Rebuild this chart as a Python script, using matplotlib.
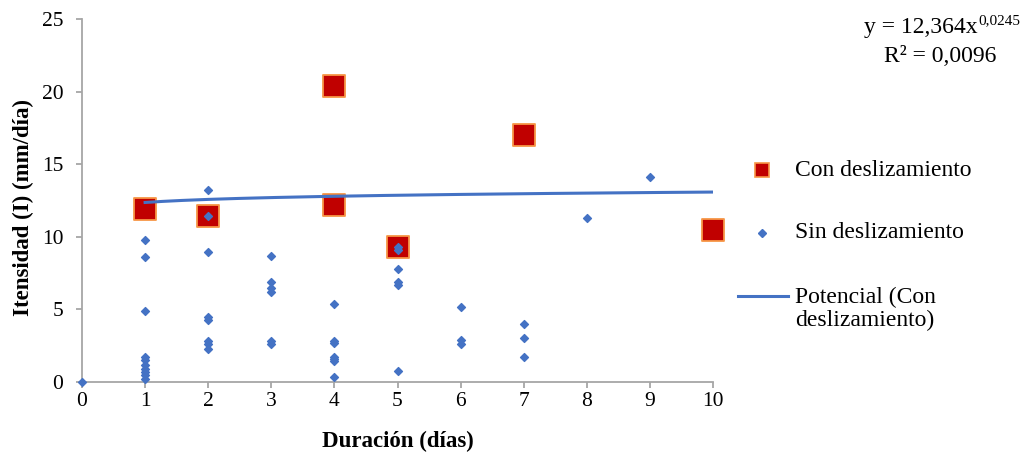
import matplotlib
matplotlib.use("Agg")
import matplotlib.pyplot as plt
import numpy as np
from matplotlib.lines import Line2D

plt.rcParams['font.family'] = ['Liberation Serif', 'DejaVu Serif']

# Data
con_x = [1, 2, 4, 4, 5, 7, 10]
con_y = [11.9, 11.4, 20.4, 12.2, 9.3, 17.0, 10.5]

sin_x = [0,
         1, 1, 1, 1, 1, 1, 1, 1, 1, 1,
         2, 2, 2, 2, 2, 2, 2, 2,
         3, 3, 3, 3, 3, 3,
         4, 4, 4, 4, 4, 4, 4,
         5, 5, 5, 5, 5, 5,
         6, 6, 6,
         7, 7, 7,
         8, 9]
sin_y = [0.0,
         9.8, 8.6, 4.9, 1.7, 1.5, 1.2, 0.9, 0.7, 0.5, 0.2,
         13.2, 11.4, 8.95, 4.45, 4.3, 2.8, 2.65, 2.3,
         8.7, 6.9, 6.5, 6.2, 2.8, 2.65,
         5.35, 2.8, 2.7, 1.75, 1.6, 1.45, 0.35,
         9.3, 9.1, 7.8, 6.9, 6.7, 0.75,
         5.15, 2.9, 2.6,
         4.0, 3.05, 1.75,
         11.3, 14.15]

# Power trendline coefficients as shown on chart
coef_a = 12.364
coef_b = 0.0245

legend_labels = ['Con deslizamiento', 'Sin deslizamiento', 'Potencial (Con\ndeslizamiento)']

W, H = 1029, 458
fig = plt.figure(figsize=(W / 100, H / 100), dpi=100)
ax = fig.add_axes([82 / W, 1 - 382 / H, 631 / W, 363 / H])

def fx(px):
    return px / W

def fy(py):
    return 1 - py / H

trend_x = np.linspace(1, 10, 200)
trend_y = coef_a * trend_x ** coef_b

ax.scatter(con_x, con_y, marker='s', s=240, facecolor='#C00000',
           edgecolor='#F79646', linewidth=1.3, zorder=2)
ax.scatter(sin_x, sin_y, marker='D', s=16, color='#4472C4', zorder=3)
ax.plot(trend_x, trend_y, color='#4472C4', lw=2.2, zorder=4)

ax.set_xlim(0, 10)
ax.set_ylim(0, 25)
ax.set_xticks(range(0, 11))
ax.set_yticks(range(0, 26, 5))
for s in ['top', 'right']:
    ax.spines[s].set_visible(False)
for s in ['left', 'bottom']:
    ax.spines[s].set_color('#A6A6A6')
    ax.spines[s].set_linewidth(1.3)
ax.tick_params(axis='both', colors='#A6A6A6', labelcolor='black',
               labelsize=15.5, length=4.5, width=1.3, direction='out')
ax.tick_params(axis='y', pad=9)
ax.tick_params(axis='x', pad=3)
for c in ax.collections:
    c.set_clip_on(False)

ax.set_xlabel('Duración (días)', fontsize=16.5, fontweight='bold')
ax.set_ylabel('Itensidad (I) (mm/día)', fontsize=16.5, fontweight='bold')
ax.xaxis.set_label_coords(0.5, (382 - 431) / 363)
ax.yaxis.set_label_coords((34 - 82) / 631, (382 - 207) / 363)

# Manual legend
fig.add_artist(Line2D([fx(762)], [fy(170)], marker='s', markersize=9.5, linestyle='none',
                      markerfacecolor='#C00000', markeredgecolor='#F79646',
                      markeredgewidth=1.2))
fig.add_artist(Line2D([fx(762)], [fy(233)], marker='D', markersize=4, linestyle='none',
                      color='#4472C4'))
fig.add_artist(Line2D([fx(738), fx(788)], [fy(296), fy(296)], color='#4472C4', lw=2.2))
fig.text(fx(795), fy(170), legend_labels[0], ha='left', va='center', fontsize=17)
fig.text(fx(795), fy(233), legend_labels[1], ha='left', va='center', fontsize=17)
fig.text(fx(795), fy(309), legend_labels[2], ha='left', va='center', fontsize=17,
         linespacing=1.15)

# Trendline equation
fig.text(fx(978), fy(33), 'y = 12,364x', ha='right', va='baseline', fontsize=17)
fig.text(fx(978), fy(24), '0,0245', ha='left', va='baseline', fontsize=11)
fig.text(fx(940), fy(62), 'R² = 0,0096', ha='center', va='baseline', fontsize=17)

fig.savefig('out.png', dpi=100)
